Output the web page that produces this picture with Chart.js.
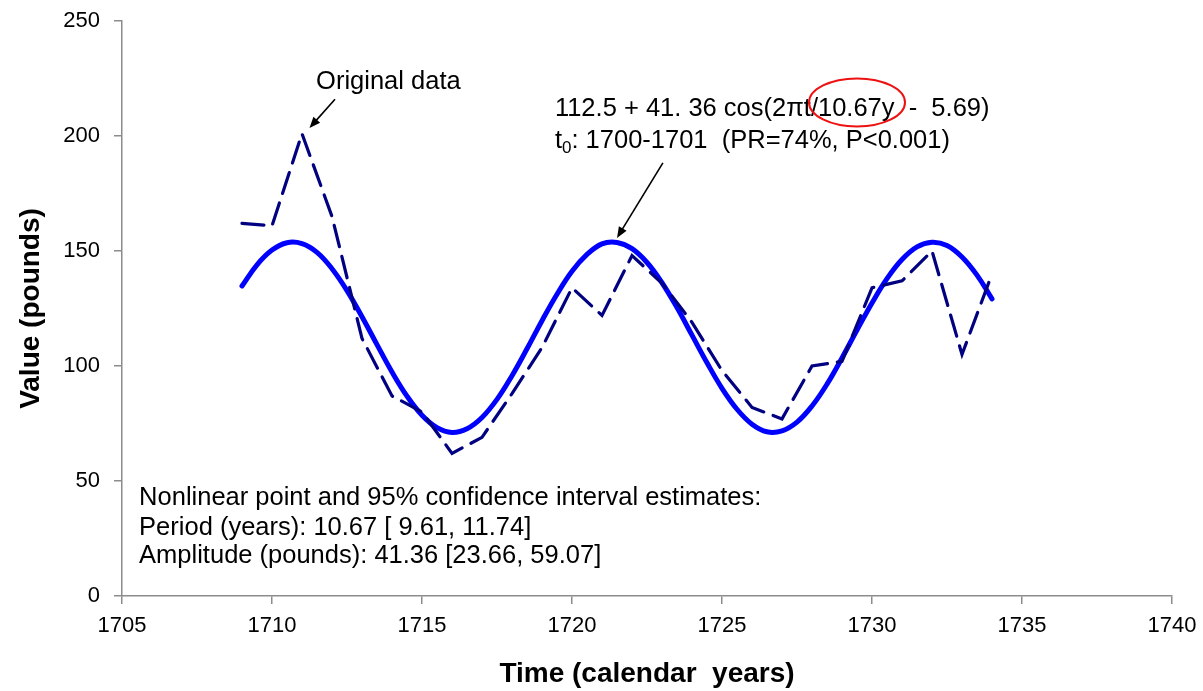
<!DOCTYPE html>
<html>
<head>
<meta charset="utf-8">
<script src="https://cdn.jsdelivr.net/npm/chart.js@4.4.1/dist/chart.umd.min.js"></script>
<style>
    html, body { margin: 0; padding: 0; background: #fff; }
    #wrap { width: 1203px; height: 691px; }
</style>
</head>
<body>
<div id="wrap"><canvas id="mainChart" width="1203" height="691"></canvas></div>
<script>
// Observed yearly values (pounds)
const dataYears = [1709, 1710, 1711, 1712, 1713, 1714, 1715, 1716, 1717, 1718, 1719, 1720, 1721,
    1722, 1723, 1724, 1725, 1726, 1727, 1728, 1729, 1730, 1731, 1732, 1733, 1734];
const originalValues = [162, 161, 201, 165, 112, 87, 80, 62, 69, 88, 108, 134, 122,
    148, 136, 119, 98, 82, 77, 100, 102, 134, 137, 150, 105, 140];

// Fitted cosine curve, sampled every half year
const fitYears = [1709, 1709.5, 1710, 1710.5, 1711, 1711.5, 1712, 1712.5, 1713, 1713.5, 1714, 1714.5,
    1715, 1715.5, 1716, 1716.5, 1717, 1717.5, 1718, 1718.5, 1719, 1719.5, 1720, 1720.5, 1721, 1721.5,
    1722, 1722.5, 1723, 1723.5, 1724, 1724.5, 1725, 1725.5, 1726, 1726.5, 1727, 1727.5, 1728, 1728.5,
    1729, 1729.5, 1730, 1730.5, 1731, 1731.5, 1732, 1732.5, 1733, 1733.5, 1734];
const fitValues = [134.8, 144.0, 150.4, 153.6, 153.2, 149.4, 142.3, 132.8, 121.4, 109.3, 97.4, 86.9,
    78.6, 73.2, 71.1, 72.7, 77.6, 85.5, 95.8, 107.5, 119.7, 131.2, 141.2, 148.5, 153.1, 153.7,
    151.0, 145.0, 136.2, 125.4, 113.4, 101.4, 90.3, 81.2, 74.7, 71.4, 71.8, 75.6, 82.6, 92.1,
    103.5, 115.6, 127.4, 138.0, 146.3, 151.8, 153.8, 152.4, 147.4, 139.5, 129.2];

// Axis ranges and ticks
const xMin = 1705, xMax = 1740, xStep = 5;
const yMin = 0, yMax = 250, yStep = 50;

const formulaText = '112.5 + 41. 36 cos(2\u03C0t/10.67y  -  5.69)';
const estimateLines = [
    'Nonlinear point and 95% confidence interval estimates:',
    'Period (years): 10.67 [ 9.61, 11.74]',
    'Amplitude (pounds): 41.36 [23.66, 59.07]'
];

const FONT = '"Liberation Sans", Arial, sans-serif';
const AXIS_GRAY = '#8c8c8c';
const NOTE_SIZE = 25.5;

function drawArrow(ctx, x1, y1, x2, y2) {
    const ang = Math.atan2(y2 - y1, x2 - x1);
    const head = 11, half = 4.5;
    ctx.beginPath();
    ctx.moveTo(x1, y1);
    ctx.lineTo(x2 - Math.cos(ang) * head * 0.8, y2 - Math.sin(ang) * head * 0.8);
    ctx.stroke();
    ctx.beginPath();
    ctx.moveTo(x2, y2);
    ctx.lineTo(x2 - Math.cos(ang) * head - Math.sin(ang) * half, y2 - Math.sin(ang) * head + Math.cos(ang) * half);
    ctx.lineTo(x2 - Math.cos(ang) * head + Math.sin(ang) * half, y2 - Math.sin(ang) * head - Math.cos(ang) * half);
    ctx.closePath();
    ctx.fill();
}

// Text labels, arrows and the highlight ring
const notesPlugin = {
    id: 'notes',
    afterDraw(chart) {
        const ctx = chart.ctx;
        const xs = chart.scales.x, ys = chart.scales.y;
        const px = v => xs.getPixelForValue(v);
        const py = v => ys.getPixelForValue(v);
        const noteFont = NOTE_SIZE + 'px ' + FONT;

        ctx.save();
        ctx.fillStyle = '#000';
        ctx.strokeStyle = '#000';
        ctx.lineWidth = 1.6;
        ctx.textAlign = 'left';
        ctx.textBaseline = 'middle';
        ctx.font = noteFont;

        ctx.fillText('Original data', px(1711.47), py(223.5));
        drawArrow(ctx, px(1712.1), py(216), px(1711.25), py(203.5));

        ctx.fillText(formulaText, px(1719.43), py(211.7));
        // t with subscript 0
        let x0 = px(1719.43);
        const yLine2 = py(197.8);
        ctx.fillText('t', x0, yLine2);
        x0 += ctx.measureText('t').width;
        ctx.font = '17px ' + FONT;
        ctx.fillText('0', x0, yLine2 + 7);
        x0 += ctx.measureText('0').width;
        ctx.font = noteFont;
        ctx.fillText(': 1700-1701  (PR=74%, P<0.001)', x0, yLine2);
        drawArrow(ctx, px(1723.03), py(188.3), px(1721.5), py(155.7));

        const lineY = [42.6, 29.6, 17.4];
        estimateLines.forEach((t, i) => ctx.fillText(t, px(1705.57), py(lineY[i])));

        ctx.strokeStyle = '#ee1111';
        ctx.lineWidth = 2;
        ctx.beginPath();
        ctx.ellipse(px(1729.5), py(214.6), 48, 24, 0, 0, Math.PI * 2);
        ctx.stroke();
        ctx.restore();
    }
};

const ctx = document.getElementById('mainChart');
new Chart(ctx, {
    type: 'line',
    data: {
        datasets: [{
            label: 'Original data',
            data: dataYears.map((y, i) => ({ x: y, y: originalValues[i] })),
            borderColor: '#000080',
            borderWidth: 3.2,
            borderDash: [22, 10],
            borderCapStyle: 'round',
            tension: 0,
            pointRadius: 0,
            fill: false
        }, {
            label: 'Cosine fit',
            data: fitYears.map((y, i) => ({ x: y, y: fitValues[i] })),
            borderColor: '#0000ff',
            borderWidth: 5,
            borderCapStyle: 'round',
            tension: 0.4,
            pointRadius: 0,
            fill: false
        }]
    },
    options: {
        responsive: false,
        animation: false,
        layout: { padding: { top: 21, right: 31, left: 0, bottom: 0 } },
        plugins: {
            legend: { display: false },
            tooltip: { enabled: false }
        },
        scales: {
            x: {
                type: 'linear',
                min: xMin,
                max: xMax,
                afterFit: s => { s.height = 95; s.paddingLeft = 0; s.paddingRight = 0; },
                border: { color: AXIS_GRAY, width: 1.5 },
                grid: { drawOnChartArea: false, color: AXIS_GRAY, tickLength: 8, lineWidth: 1.5 },
                ticks: {
                    stepSize: xStep,
                    color: '#000',
                    padding: 9,
                    maxRotation: 0,
                    font: { family: FONT, size: 22 },
                    callback: v => String(v)
                },
                title: {
                    display: true,
                    text: 'Time (calendar  years)',
                    color: '#000',
                    padding: { top: 0, bottom: 0 },
                    font: { family: FONT, size: 28, weight: 'bold' }
                }
            },
            y: {
                min: yMin,
                max: yMax,
                afterFit: s => { s.width = 122; s.paddingTop = 0; s.paddingBottom = 0; },
                border: { color: AXIS_GRAY, width: 1.5 },
                grid: { drawOnChartArea: false, color: AXIS_GRAY, tickLength: 8, lineWidth: 1.5 },
                ticks: {
                    stepSize: yStep,
                    color: '#000',
                    padding: 14,
                    font: { family: FONT, size: 22 },
                    callback: v => String(v)
                },
                title: {
                    display: true,
                    text: 'Value (pounds)',
                    color: '#000',
                    padding: { top: 14, bottom: 0 },
                    font: { family: FONT, size: 28, weight: 'bold' }
                }
            }
        }
    },
    plugins: [notesPlugin]
});
</script>
</body>
</html>
